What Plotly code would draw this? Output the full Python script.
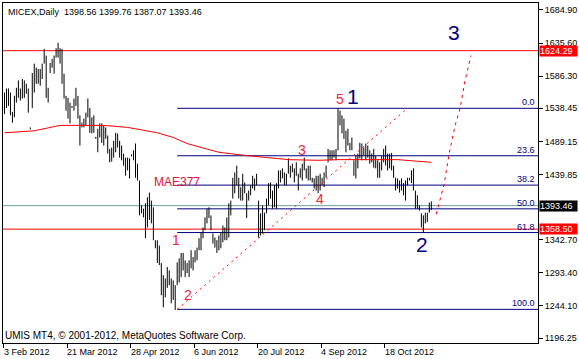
import plotly.graph_objects as go

# ---------------- data ----------------
title_text = "MICEX,Daily  1398.56 1399.76 1387.07 1393.46"
copyright_text = "UMIS MT4, \u00a9 2001-2012, MetaQuotes Software Corp."

date_labels = ["3 Feb 2012", "21 Mar 2012", "28 Apr 2012", "6 Jun 2012",
               "20 Jul 2012", "4 Sep 2012", "18 Oct 2012"]
date_bar_idx = [0, 32, 64, 96, 128, 160, 192]

highs = [
    1562, 1568, 1568, 1562, 1533, 1557, 1569, 1580, 1568, 1582,
    1580, 1575, 1568, 1510, 1591, 1605, 1599, 1597, 1597, 1605,
    1627, 1617, 1569, 1606, 1612, 1617, 1628, 1636, 1628, 1627,
    1590, 1557, 1554, 1547, 1542, 1553, 1569, 1557, 1528, 1517,
    1523, 1532, 1553, 1539, 1525, 1528, 1496, 1508, 1516, 1516,
    1513, 1510, 1498, 1478, 1480, 1490, 1502, 1501, 1490, 1483,
    1471, 1465, 1465, 1464, 1470, 1476, 1486, 1456, 1431, 1394,
    1389, 1397, 1406, 1413, 1401, 1391, 1342, 1342, 1334, 1308,
    1290, 1285, 1302, 1297, 1285, 1282, 1275, 1309, 1315, 1323,
    1323, 1312, 1308, 1312, 1327, 1317, 1327, 1331, 1345, 1354,
    1361, 1376, 1389, 1391, 1379, 1352, 1346, 1342, 1349, 1354,
    1364, 1361, 1376, 1397, 1401, 1435, 1443, 1453, 1435, 1421,
    1441, 1428, 1412, 1416, 1424, 1438, 1434, 1441, 1401, 1382,
    1394, 1383, 1404, 1427, 1428, 1416, 1424, 1427, 1446, 1446,
    1449, 1443, 1441, 1464, 1453, 1456, 1449, 1458, 1441, 1449,
    1456, 1465, 1449, 1453, 1453, 1435, 1434, 1438, 1438, 1441,
    1435, 1443, 1453, 1478, 1476, 1476, 1476, 1478, 1538, 1535,
    1528, 1523, 1505, 1508, 1487, 1495, 1461, 1468, 1471, 1487,
    1486, 1480, 1486, 1483, 1476, 1471, 1478, 1468, 1461, 1458,
    1468, 1478, 1483, 1471, 1471, 1472, 1453, 1435, 1434, 1431,
    1434, 1427, 1431, 1435, 1435, 1446, 1449, 1416, 1409, 1394,
    1382, 1379, 1383, 1383, 1398, 1399.76,
]
lows = [
    1530, 1539, 1542, 1528, 1517, 1525, 1547, 1554, 1550, 1553,
    1554, 1560, 1532, 1507, 1539, 1562, 1575, 1575, 1572, 1582,
    1605, 1554, 1547, 1591, 1599, 1590, 1614, 1614, 1605, 1575,
    1553, 1535, 1523, 1516, 1539, 1535, 1542, 1523, 1483, 1510,
    1510, 1513, 1525, 1502, 1501, 1502, 1493, 1473, 1495, 1487,
    1483, 1493, 1471, 1458, 1459, 1465, 1473, 1480, 1465, 1461,
    1453, 1438, 1446, 1434, 1467, 1461, 1435, 1431, 1379, 1382,
    1376, 1345, 1361, 1372, 1367, 1342, 1330, 1308, 1305, 1260,
    1242, 1257, 1271, 1275, 1248, 1253, 1238, 1275, 1279, 1287,
    1297, 1287, 1293, 1287, 1300, 1297, 1309, 1312, 1327, 1327,
    1345, 1357, 1367, 1375, 1357, 1337, 1331, 1323, 1327, 1330,
    1339, 1342, 1342, 1346, 1379, 1404, 1412, 1424, 1404, 1401,
    1401, 1412, 1375, 1401, 1409, 1419, 1416, 1424, 1346, 1349,
    1352, 1357, 1382, 1394, 1404, 1389, 1391, 1389, 1419, 1428,
    1434, 1424, 1424, 1441, 1435, 1443, 1428, 1438, 1416, 1435,
    1431, 1446, 1434, 1431, 1431, 1428, 1419, 1416, 1412, 1416,
    1424, 1421, 1435, 1458, 1461, 1461, 1465, 1461, 1476, 1513,
    1501, 1493, 1473, 1483, 1476, 1476, 1438, 1434, 1449, 1464,
    1461, 1468, 1461, 1465, 1456, 1458, 1450, 1449, 1435, 1435,
    1446, 1458, 1453, 1446, 1449, 1446, 1435, 1416, 1419, 1413,
    1416, 1409, 1401, 1424, 1431, 1427, 1416, 1389, 1389, 1386,
    1361, 1354, 1367, 1369, 1383, 1387.07,
]

# MA(377) (MAE377) sampled along the bars
ma_idx = [0, 15, 28, 50, 62, 77, 85, 92, 98, 108, 122, 132, 143, 158, 168, 198, 208, 215]
ma_val = [1502, 1505, 1513, 1513, 1510, 1502, 1495, 1486, 1481, 1473, 1468, 1465,
          1462, 1461, 1462, 1462, 1459, 1458]

# horizontal levels
red_levels = [1624.29, 1358.50]
bid_price = 1393.46

# Fibonacci retracement
fib_low = 1239.0
fib_high = 1538.45
fib_start_idx = 87
fib_levels = [0.0, 23.6, 38.2, 50.0, 61.8, 100.0]

# dashed trend line (wave 2 -> through wave 4)
trend_idx = [87, 202]
trend_val = [1239, 1536]

# dashed projection of wave 3
proj_idx = [217.5, 221.5, 224, 227, 229.5, 232, 235]
proj_val = [1381, 1426, 1471, 1513, 1538, 1580, 1617]

# wave labels
red_wave_text = ["1", "2", "3", "4", "5"]
red_wave_idx = [86.5, 92.5, 150, 159, 169]
red_wave_val = [1342, 1260, 1477, 1403, 1553]
blue_wave_text = ["1", "2", "3"]
blue_wave_idx = [175.5, 210.5, 226.5]
blue_wave_val = [1556, 1336, 1652]
ma_label = "MAE377"
ma_label_idx = 74.5
ma_label_val = 1429

ytick_vals = [1684.90, 1635.60, 1586.30, 1538.45, 1489.15, 1439.85,
              1342.70, 1293.40, 1244.10, 1196.25]

# ---------------- figure ----------------
X0, X1 = -0.75, 268.75
Y0, Y1 = 1188.9, 1695.3
FONT = "Liberation Sans"
RED = "#FF0000"
NAVY = "#000080"
WAVE_RED = "#F01E3C"

fig = go.Figure()

# bars (high-low lines)
bx, by = [], []
for i, (h, l) in enumerate(zip(highs, lows)):
    bx += [i, i, None]
    by += [l, h, None]
fig.add_trace(go.Scatter(x=bx, y=by, mode="lines",
                         line=dict(color="black", width=1), hoverinfo="skip"))

# MA
fig.add_trace(go.Scatter(x=ma_idx, y=ma_val, mode="lines",
                         line=dict(color=RED, width=1), hoverinfo="skip"))

# trend line and projection
fig.add_trace(go.Scatter(x=trend_idx, y=trend_val, mode="lines",
                         line=dict(color=RED, width=1, dash="2px,4px"), hoverinfo="skip"))
fig.add_trace(go.Scatter(x=proj_idx, y=proj_val, mode="lines",
                         line=dict(color=RED, width=1, dash="3px,4px"), hoverinfo="skip"))

shapes = []
for lv in red_levels:
    shapes.append(dict(type="line", xref="x", yref="y", x0=X0, x1=X1, y0=lv, y1=lv,
                       line=dict(color=RED, width=1), layer="below"))
shapes.append(dict(type="line", xref="x", yref="y", x0=X0, x1=X1, y0=bid_price, y1=bid_price,
                   line=dict(color="#6E9E9E", width=1), layer="below"))

annotations = []
for lv in fib_levels:
    p = fib_high - lv / 100.0 * (fib_high - fib_low)
    shapes.append(dict(type="line", xref="x", yref="y", x0=fib_start_idx, x1=X1, y0=p, y1=p,
                       line=dict(color=NAVY, width=1), layer="below"))
    annotations.append(dict(x=X1, y=p, xref="x", yref="y", text=f"{lv:.1f}",
                            showarrow=False, xanchor="right", yanchor="bottom",
                            xshift=-1, yshift=-1,
                            font=dict(family=FONT, size=9, color=NAVY)))

for t, xi, yv in zip(red_wave_text, red_wave_idx, red_wave_val):
    annotations.append(dict(x=xi, y=yv, xref="x", yref="y", text=t, showarrow=False,
                            font=dict(family=FONT, size=14, color=WAVE_RED)))
for t, xi, yv in zip(blue_wave_text, blue_wave_idx, blue_wave_val):
    annotations.append(dict(x=xi, y=yv, xref="x", yref="y", text=t, showarrow=False,
                            font=dict(family=FONT, size=21, color=NAVY)))
annotations.append(dict(x=ma_label_idx, y=ma_label_val, xref="x", yref="y", text=ma_label,
                        showarrow=False, xanchor="left",
                        font=dict(family=FONT, size=12, color="#DC143C")))

# price boxes on the axis
for txt, lv, bg in [("1624.29", 1624.29, RED), ("1393.46", bid_price, "black"),
                    ("1358.50", 1358.50, RED)]:
    annotations.append(dict(x=1, y=lv, xref="paper", yref="y", text=txt, showarrow=False,
                            xanchor="left", yanchor="middle", xshift=1, bgcolor=bg,
                            width=37, height=10, align="left", borderpad=0,
                            font=dict(family=FONT, size=9, color="white")))

# date labels (left-aligned at their ticks)
for t, bi in zip(date_labels, date_bar_idx):
    annotations.append(dict(x=bi - 0.5, y=0, xref="x", yref="paper", text=t, showarrow=False,
                            xanchor="left", yanchor="top", xshift=-2, yshift=-2,
                            font=dict(family=FONT, size=9, color="black")))

annotations.append(dict(x=0, y=1, xref="paper", yref="paper", text=title_text, showarrow=False,
                        xanchor="left", yanchor="top", xshift=3, yshift=-2,
                        font=dict(family=FONT, size=9, color="black")))
annotations.append(dict(x=0, y=0, xref="paper", yref="paper", text=copyright_text,
                        showarrow=False, xanchor="left", yanchor="bottom", xshift=0, yshift=0,
                        font=dict(family=FONT, size=10, color="black")))

fig.update_layout(
    width=579, height=359,
    margin=dict(l=2, r=38, t=2, b=16),
    paper_bgcolor="white", plot_bgcolor="white",
    showlegend=False,
    font=dict(family=FONT, size=9, color="black"),
    shapes=shapes, annotations=annotations,
    xaxis=dict(range=[X0, X1], showgrid=False, zeroline=False, showline=True, mirror=True,
               linecolor="black", linewidth=1, ticks="outside", ticklen=4, tickcolor="black",
               tickvals=[b - 0.5 for b in date_bar_idx], showticklabels=False, fixedrange=True),
    yaxis=dict(range=[Y0, Y1], side="right", showgrid=False, zeroline=False, showline=True,
               mirror=True, linecolor="black", linewidth=1, ticks="outside", ticklen=4,
               tickcolor="black", tickvals=ytick_vals,
               ticktext=[f"{v:.2f}" for v in ytick_vals],
               tickfont=dict(family=FONT, size=9, color="black"), fixedrange=True),
)

fig.write_html("out.html")
